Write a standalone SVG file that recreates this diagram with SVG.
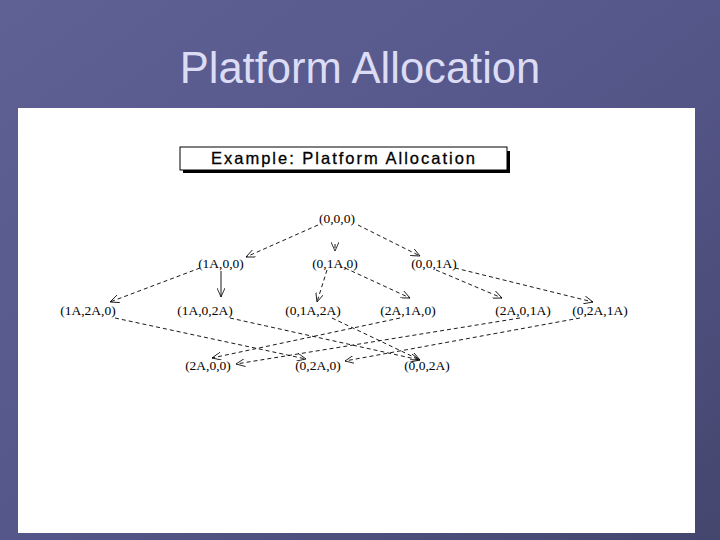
<svg xmlns="http://www.w3.org/2000/svg" width="720" height="540" viewBox="0 0 720 540">
<defs>
<linearGradient id="bg" x1="0" y1="0" x2="1" y2="1"><stop offset="0" stop-color="#5f6194"/><stop offset="0.5" stop-color="#55578a"/><stop offset="1" stop-color="#45466e"/></linearGradient>
<marker id="a" markerWidth="10" markerHeight="8" refX="9" refY="4" orient="auto" markerUnits="userSpaceOnUse"><path d="M0,0 L9,4 L0,8" fill="none" stroke="#000" stroke-width="0.8"/></marker>
</defs>
<style>
.n{font-family:"Liberation Serif",serif;font-size:13.5px;fill:#000;text-anchor:middle}
.e{stroke:#000;stroke-width:0.9;fill:none;stroke-dasharray:4 3;marker-end:url(#a)}
</style>
<rect width="720" height="540" fill="url(#bg)"/>
<text x="360" y="83" font-family="Liberation Sans,Arial,sans-serif" font-size="44" fill="#dcdcf5" text-anchor="middle" transform="translate(360 0) scale(0.99 1) translate(-360 0)">Platform Allocation</text>
<rect x="18" y="108" width="677" height="425" fill="#fff"/>
<g id="title-box">
<rect x="183" y="151" width="327" height="22" fill="#000"/>
<rect x="180" y="147" width="327" height="23" fill="#fff" stroke="#000" stroke-width="1"/>
<text x="344" y="164" font-family="Liberation Sans,Arial,sans-serif" font-size="16.5" font-weight="500" letter-spacing="2" stroke="#000" stroke-width="0.3" fill="#000" text-anchor="middle">Example:  Platform  Allocation</text>
</g>
<g id="connectors">
<path class="e" d="M318,225 L246,257"/>
<path class="e" d="M335,244 L335,251"/>
<path class="e" d="M358,225 L420,256"/>
<path class="e" d="M200,268 L110,302"/>
<path class="e" d="M221,271 L221,297" style="stroke-dasharray:none"/>
<path class="e" d="M327,270 L317,302"/>
<path class="e" d="M345,268 L410,298"/>
<path class="e" d="M436,270 L502,298"/>
<path class="e" d="M455,268 L593,302"/>
<path class="e" d="M115,318 L306,359"/>
<path class="e" d="M230,318 L420,360"/>
<path class="e" d="M332,318 L420,360"/>
<path class="e" d="M400,318 L212,358"/>
<path class="e" d="M520,318 L236,364"/>
<path class="e" d="M580,318 L345,361"/>
</g>
<g id="n000"><text class="n" x="337" y="223">(0,0,0)</text></g>
<g id="n1A00"><text class="n" x="221" y="268">(1A,0,0)</text></g>
<g id="n01A0"><text class="n" x="335" y="268">(0,1A,0)</text></g>
<g id="n001A"><text class="n" x="434" y="268">(0,0,1A)</text></g>
<g id="n1A2A0"><text class="n" x="88" y="315">(1A,2A,0)</text></g>
<g id="n1A02A"><text class="n" x="205" y="315">(1A,0,2A)</text></g>
<g id="n01A2A"><text class="n" x="313" y="315">(0,1A,2A)</text></g>
<g id="n2A1A0"><text class="n" x="408" y="315">(2A,1A,0)</text></g>
<g id="n2A01A"><text class="n" x="523" y="315">(2A,0,1A)</text></g>
<g id="n02A1A"><text class="n" x="600" y="315">(0,2A,1A)</text></g>
<g id="n2A00"><text class="n" x="208" y="370">(2A,0,0)</text></g>
<g id="n02A0"><text class="n" x="318" y="370">(0,2A,0)</text></g>
<g id="n002A"><text class="n" x="427" y="370">(0,0,2A)</text></g>
</svg>
